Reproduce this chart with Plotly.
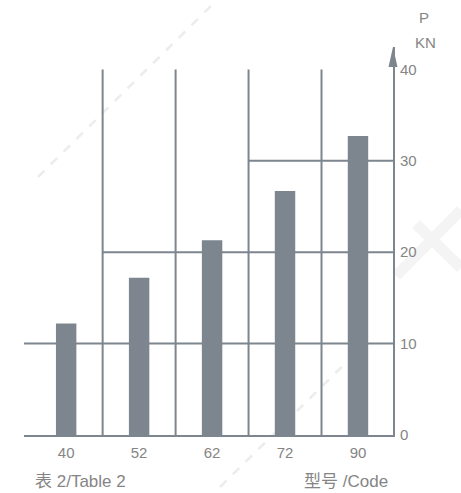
import plotly.graph_objects as go

# Load capacity P (kN) per model code
codes = ["40", "52", "62", "72", "90"]
load_kn = [12.2, 17.2, 21.3, 26.7, 32.7]
y_ticks = [0, 10, 20, 30, 40]

GRAY = "#7d858e"
TEXT = "#858585"
WM = "#ececec"
FONT = "Liberation Sans, Noto Sans CJK SC, sans-serif"

W, H = 461, 493
ML, MR, MT, MB = 24, 68, 47, 58
PW, PH = W - ML - MR, H - MT - MB

x_pos = list(range(len(codes)))
x_range = [-0.578, 4.48]
y_range = [0, 42.45]


def paper(px, py):
    return (px - ML) / PW, (H - MB - py) / PH


fig = go.Figure(
    go.Bar(
        x=x_pos,
        y=load_kn,
        width=0.28,
        marker=dict(color=GRAY, line=dict(width=0)),
        hoverinfo="skip",
    )
)

shapes = []
line = dict(color=GRAY, width=2)

# column separators
for k in range(len(codes) - 1):
    shapes.append(dict(type="line", xref="x", yref="y", x0=k + 0.5, x1=k + 0.5,
                       y0=0, y1=40, line=line, layer="below"))

# reference levels: 10 kN full width, 20 kN from the 2nd column, 30 kN from the 4th
for level, start in [(10, x_range[0]), (20, 0.5), (30, 2.5)]:
    shapes.append(dict(type="line", xref="x", yref="y", x0=start, x1=x_range[1],
                       y0=level, y1=level, line=line, layer="below"))

# arrow head on top of the P axis
shapes.append(dict(type="path", xref="paper", yref="paper", xsizemode="pixel", ysizemode="pixel",
                   xanchor=1, yanchor=1,
                   path="M 0 0 L -4.5 -20 L 4.5 -20 Z",
                   fillcolor=GRAY, line=dict(width=0), layer="above"))

# faint background marks
for (a, b) in [((38, 177), (217, 0)), ((220, 487), (367, 342))]:
    x0, y0 = paper(*a)
    x1, y1 = paper(*b)
    shapes.append(dict(type="line", xref="paper", yref="paper", x0=x0, y0=y0, x1=x1, y1=y1,
                       line=dict(color=WM, width=2.5, dash="dash"), layer="below"))
for (a, b) in [((396, 276), (461, 210)), ((416, 224), (461, 268))]:
    x0, y0 = paper(*a)
    x1, y1 = paper(*b)
    shapes.append(dict(type="line", xref="paper", yref="paper", x0=x0, y0=y0, x1=x1, y1=y1,
                       line=dict(color="#f4f4f4", width=11), layer="below"))

annotations = []
for txt, (px, py), size in [("P", (424, 17), 15), ("KN", (425, 42), 15),
                            ("表 2/Table 2", (80, 481), 17), ("型号 /Code", (346, 481), 17)]:
    ax_, ay_ = paper(px, py)
    annotations.append(dict(text=txt, xref="paper", yref="paper", x=ax_, y=ay_,
                            xanchor="center", yanchor="middle", showarrow=False,
                            font=dict(family=FONT, size=size, color=TEXT)))

fig.update_layout(
    width=W, height=H, autosize=False,
    margin=dict(l=ML, r=MR, t=MT, b=MB, pad=0),
    paper_bgcolor="white", plot_bgcolor="white",
    showlegend=False,
    shapes=shapes,
    annotations=annotations,
    xaxis=dict(range=x_range, tickvals=x_pos, ticktext=codes, showgrid=False,
               zeroline=False, showline=True, linecolor=GRAY, linewidth=2,
               ticks="", ticklabelstandoff=3,
               tickfont=dict(family=FONT, size=15, color=TEXT), fixedrange=True),
    yaxis=dict(range=y_range, side="right", tickvals=y_ticks, showgrid=False,
               zeroline=False, showline=True, linecolor=GRAY, linewidth=2,
               ticks="", ticklabelstandoff=2,
               tickfont=dict(family=FONT, size=15, color=TEXT), fixedrange=True),
)

fig.write_html("out.html", config={"displayModeBar": False})
